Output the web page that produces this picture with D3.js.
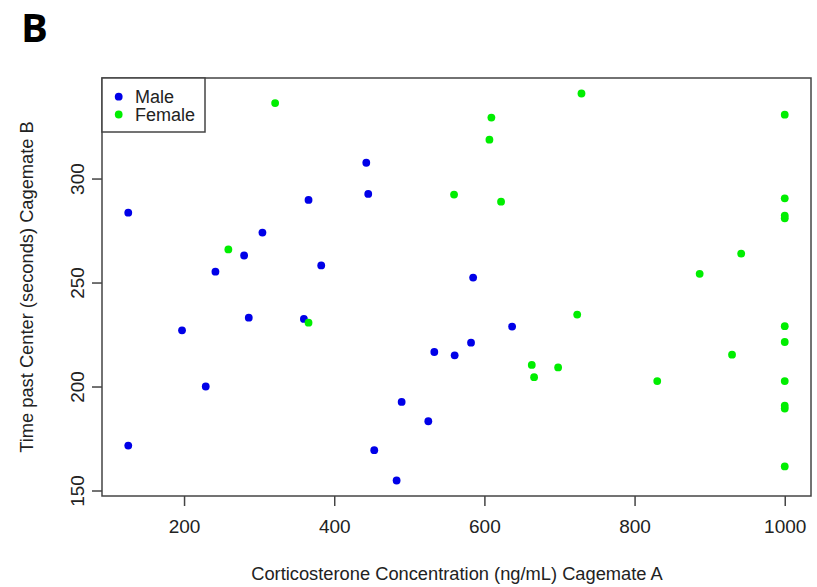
<!DOCTYPE html>
<html>
<head>
<meta charset="utf-8">
<script src="https://cdn.jsdelivr.net/npm/d3@7"></script>
<style>
  body { margin: 0; background: #fff; }
  text { font-family: "Liberation Sans", Arial, sans-serif; fill: #222; }
</style>
</head>
<body>
<div id="chart"></div>
<script>
// Data: corticosterone (cagemate A) vs time past center (cagemate B)

var maleX = [125.7, 125.7, 197.3, 228.9, 241.8, 280, 286.2, 304.4, 359.6, 365.8, 382.7,
             442.7, 445.3, 453.3, 483.1, 489.8, 525.3, 533.3, 560.4, 582.2, 585, 636.9];
var maleY = [283.6, 171.6, 227.0, 200.0, 255.2, 263.0, 233.1, 274.0, 232.5, 289.7, 258.2,
             307.6, 292.6, 169.4, 154.8, 192.6, 183.3, 216.6, 215.0, 221.1, 252.4, 228.8];

var femaleX = [259, 321.3, 365.8, 559.6, 606.7, 609.3, 622.2, 663.1, 666.2, 698.2, 723.6,
               729.3, 830.2, 886.7, 929.8, 942, 1000, 1000, 1000, 1000, 1000, 1000,
               1000, 1000, 1000, 1000];
var femaleY = [265.9, 336.3, 230.7, 292.3, 318.7, 329.3, 288.9, 210.4, 204.5, 209.2, 234.6,
               340.9, 202.6, 254.2, 215.3, 263.9, 330.7, 290.5, 282.2, 280.9, 229.0, 221.4,
               202.6, 190.8, 189.4, 161.6];

var xTicks = [200, 400, 600, 800, 1000];
var yTicks = [150, 200, 250, 300];
var groups = ["Male", "Female"];
var groupColors = ["#0000e8", "#00ee00"];

var width = 817, height = 587;
var plot = {left: 102, top: 78, right: 811, bottom: 496};

var svg = d3.select("#chart").append("svg")
    .attr("width", width)
    .attr("height", height);

// R-style 4% padding around the data range
function padded(vals) {
  var ext = d3.extent(vals), pad = (ext[1] - ext[0]) * 0.04;
  return [ext[0] - pad, ext[1] + pad];
}

var x = d3.scaleLinear()
    .domain(padded(maleX.concat(femaleX)))
    .range([plot.left, plot.right]);
var y = d3.scaleLinear()
    .domain(padded(maleY.concat(femaleY)))
    .range([plot.bottom, plot.top]);

// Panel letter
svg.append("text")
    .attr("x", 21)
    .attr("y", 42)
    .style("font-family", "'Open Sans', 'Liberation Sans', sans-serif")
    .style("font-size", "40px")
    .style("font-weight", "bold")
    .style("fill", "#000")
    .text("B");

// Axes
var xAxis = svg.append("g")
    .attr("transform", "translate(0," + plot.bottom + ")")
    .call(d3.axisBottom(x).tickValues(xTicks).tickSize(10).tickPadding(14).tickFormat(d3.format("d")));
xAxis.select(".domain").remove();
xAxis.selectAll("line").attr("stroke", "#444").attr("stroke-width", 1.5);
xAxis.selectAll("text")
    .style("font-size", "19px")
    .style("font-family", "Liberation Sans, Arial, sans-serif")
    .attr("fill", "#222");

var yAxis = svg.append("g")
    .attr("transform", "translate(" + plot.left + ",0)")
    .call(d3.axisLeft(y).tickValues(yTicks).tickSize(10).tickFormat(d3.format("d")));
yAxis.select(".domain").remove();
yAxis.selectAll("line").attr("stroke", "#444").attr("stroke-width", 1.5);
yAxis.selectAll("text")
    .attr("x", null).attr("dy", null)
    .attr("transform", "translate(-25,0) rotate(-90)")
    .attr("dy", "0.35em")
    .style("text-anchor", "middle")
    .style("font-size", "19px")
    .style("font-family", "Liberation Sans, Arial, sans-serif")
    .attr("fill", "#222");

// Plot box
svg.append("rect")
    .attr("x", plot.left)
    .attr("y", plot.top)
    .attr("width", plot.right - plot.left)
    .attr("height", plot.bottom - plot.top)
    .attr("fill", "none")
    .attr("stroke", "#444")
    .attr("stroke-width", 1.5);

// Axis titles
svg.append("text")
    .attr("x", 457)
    .attr("y", 580)
    .style("text-anchor", "middle")
    .style("font-size", "18.3px")
    .text("Corticosterone Concentration (ng/mL) Cagemate A");

svg.append("text")
    .attr("transform", "translate(33," + ((plot.top + plot.bottom) / 2) + ") rotate(-90)")
    .style("text-anchor", "middle")
    .style("font-size", "18.3px")
    .text("Time past Center (seconds) Cagemate B");

// Points
var points = [];
maleX.forEach(function(v, i) { points.push({x: v, y: maleY[i], g: 0}); });
femaleX.forEach(function(v, i) { points.push({x: v, y: femaleY[i], g: 1}); });

svg.append("g").selectAll("circle")
    .data(points)
    .enter().append("circle")
    .attr("cx", function(d) { return x(d.x); })
    .attr("cy", function(d) { return y(d.y); })
    .attr("r", 3.9)
    .attr("fill", function(d) { return groupColors[d.g]; });

// Legend
var legend = svg.append("g");
legend.append("rect")
    .attr("x", plot.left)
    .attr("y", plot.top)
    .attr("width", 103)
    .attr("height", 54)
    .attr("fill", "#fff")
    .attr("stroke", "#444")
    .attr("stroke-width", 1.5);

var items = legend.selectAll(".item")
    .data(groups)
    .enter().append("g")
    .attr("class", "item")
    .attr("transform", function(d, i) { return "translate(0," + (96.7 + i * 17.8) + ")"; });
items.append("circle")
    .attr("cx", 118.7)
    .attr("r", 3.9)
    .attr("fill", function(d, i) { return groupColors[i]; });
items.append("text")
    .attr("x", 135)
    .attr("dy", "0.34em")
    .style("font-size", "18px")
    .text(function(d) { return d; });
</script>
</body>
</html>
